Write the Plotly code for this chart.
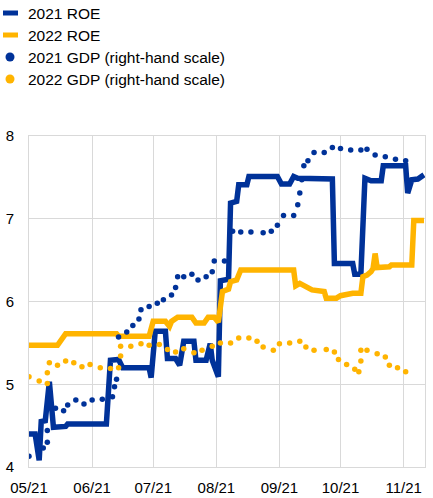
import plotly.graph_objects as go

BLUE = "#003299"
YELLOW = "#FFB400"

# 2021 ROE (left-hand scale)
roe21_dates = ["2021-05-01","2021-05-04","2021-05-06","2021-05-07","2021-05-09","2021-05-11","2021-05-13",
               "2021-05-19","2021-05-20","2021-06-08","2021-06-10","2021-06-14","2021-06-16","2021-06-29",
               "2021-06-30","2021-07-02","2021-07-07","2021-07-08","2021-07-12","2021-07-14","2021-07-16",
               "2021-07-21","2021-07-22","2021-07-27","2021-07-29","2021-07-30","2021-08-02","2021-08-03",
               "2021-08-07","2021-08-08","2021-08-11","2021-08-12","2021-08-16","2021-08-17","2021-08-31",
               "2021-09-02","2021-09-06","2021-09-08","2021-09-10","2021-09-27","2021-09-28","2021-10-07",
               "2021-10-08","2021-10-11","2021-10-13","2021-10-16","2021-10-21","2021-10-22","2021-11-02",
               "2021-11-03","2021-11-05","2021-11-08","2021-11-11"]
roe21_values = [4.40,4.40,4.08,4.55,4.56,5.03,4.48,
                4.49,4.52,4.52,5.29,5.30,5.20,5.20,
                5.08,5.64,5.64,5.31,5.31,5.23,5.52,
                5.52,5.29,5.29,5.49,5.29,5.09,6.25,
                6.27,7.19,7.21,7.41,7.41,7.51,7.51,
                7.42,7.42,7.51,7.49,7.48,6.46,6.46,
                6.33,6.33,7.49,7.46,7.46,7.64,7.64,
                7.31,7.47,7.48,7.53]

# 2022 ROE (left-hand scale)
roe22_dates = ["2021-05-01","2021-05-15","2021-05-19","2021-06-13","2021-06-14","2021-06-29","2021-07-01",
               "2021-07-07","2021-07-09","2021-07-10","2021-07-13","2021-07-20","2021-07-22","2021-07-26",
               "2021-07-28","2021-07-31","2021-08-02","2021-08-04","2021-08-07","2021-08-08","2021-08-11",
               "2021-08-13","2021-09-08","2021-09-09","2021-09-11","2021-09-13","2021-09-16","2021-09-17",
               "2021-09-23","2021-09-24","2021-09-29","2021-10-01","2021-10-07","2021-10-11","2021-10-12",
               "2021-10-14","2021-10-16","2021-10-17","2021-10-18","2021-10-19","2021-10-25","2021-10-26",
               "2021-11-05","2021-11-06","2021-11-11"]
roe22_values = [5.47,5.47,5.61,5.61,5.58,5.58,5.76,
                5.76,5.70,5.76,5.81,5.81,5.74,5.74,
                5.81,5.81,5.75,6.12,6.15,6.24,6.26,
                6.38,6.38,6.19,6.22,6.19,6.16,6.14,
                6.12,6.04,6.04,6.07,6.10,6.10,6.30,
                6.32,6.36,6.40,6.58,6.41,6.42,6.44,
                6.44,6.98,6.98]

# 2021 GDP (right-hand scale)
gdp21_dates = ["2021-05-01","2021-05-08","2021-05-10","2021-05-10","2021-05-14","2021-05-18","2021-05-20",
               "2021-05-24","2021-05-28","2021-06-01","2021-06-06","2021-06-11","2021-06-12","2021-06-13",
               "2021-06-14","2021-06-18","2021-06-21","2021-06-24","2021-06-25","2021-06-29","2021-07-03",
               "2021-07-06","2021-07-10","2021-07-12","2021-07-13","2021-07-16","2021-07-20","2021-07-23",
               "2021-07-27","2021-07-30","2021-07-31","2021-08-05","2021-08-09","2021-08-13","2021-08-18",
               "2021-08-24","2021-08-28","2021-08-31","2021-09-03","2021-09-08","2021-09-10","2021-09-11",
               "2021-09-12","2021-09-13","2021-09-15","2021-09-18","2021-09-23","2021-09-27","2021-10-01",
               "2021-10-06","2021-10-11","2021-10-14","2021-10-18","2021-10-23","2021-10-28","2021-11-02"]
gdp21_values = [4.13,4.23,4.30,4.44,4.71,4.68,4.75,
                4.81,4.76,4.81,4.82,4.85,4.97,5.06,
                5.57,5.63,5.71,5.79,5.90,5.94,5.98,
                6.02,6.08,6.17,6.30,6.30,6.33,6.26,
                6.30,6.36,6.49,6.49,6.85,6.84,6.84,
                6.83,6.85,6.92,7.04,7.04,7.17,7.31,
                7.47,7.64,7.70,7.80,7.80,7.86,7.85,
                7.83,7.83,7.84,7.77,7.75,7.72,7.70]

# 2022 GDP (right-hand scale)
gdp22_dates = ["2021-05-01","2021-05-06","2021-05-10","2021-05-10","2021-05-11","2021-05-15","2021-05-19",
               "2021-05-23","2021-05-27","2021-05-31","2021-06-05","2021-06-10","2021-06-14","2021-06-15",
               "2021-06-15","2021-06-20","2021-06-25","2021-06-29","2021-07-04","2021-07-08","2021-07-12",
               "2021-07-16","2021-07-21","2021-07-25","2021-07-30","2021-08-03","2021-08-08","2021-08-12",
               "2021-08-17","2021-08-21","2021-08-24","2021-08-29","2021-09-01","2021-09-06","2021-09-11",
               "2021-09-14","2021-09-18","2021-09-24","2021-09-28","2021-09-30","2021-10-04","2021-10-08",
               "2021-10-10","2021-10-11","2021-10-11","2021-10-14","2021-10-19","2021-10-23","2021-10-25",
               "2021-10-29","2021-11-02"]
gdp22_values = [5.09,5.04,5.01,5.14,5.26,5.23,5.28,
                5.26,5.21,5.24,5.20,5.19,5.20,5.34,
                5.46,5.46,5.49,5.47,5.48,5.42,5.39,
                5.43,5.38,5.41,5.46,5.50,5.50,5.56,
                5.56,5.52,5.45,5.41,5.49,5.50,5.52,
                5.45,5.41,5.42,5.39,5.30,5.24,5.18,
                5.15,5.28,5.41,5.41,5.37,5.33,5.23,
                5.20,5.15]

tick_vals = ["2021-05-01","2021-06-01","2021-07-01","2021-08-01","2021-09-01","2021-10-01","2021-11-01"]
tick_text = ["05/21","06/21","07/21","08/21","09/21","10/21","11/21"]
y_ticks = [4, 5, 6, 7, 8]

legend_labels = ["2021 ROE", "2022 ROE", "2021 GDP (right-hand scale)", "2022 GDP (right-hand scale)"]
legend_colors = [BLUE, YELLOW, BLUE, YELLOW]
legend_kinds = ["line", "line", "dot", "dot"]

W, H = 433, 498
ML, MR, MT, MB = 29, 8, 136, 31
PW, PH = W - ML - MR, H - MT - MB


def px(x):
    return (x - ML) / PW


def py(y):
    return (H - MB - y) / PH


fig = go.Figure()
fig.add_trace(go.Scatter(x=roe21_dates, y=roe21_values, mode="lines", name=legend_labels[0],
                         line=dict(color=BLUE, width=5.5), showlegend=False))
fig.add_trace(go.Scatter(x=roe22_dates, y=roe22_values, mode="lines", name=legend_labels[1],
                         line=dict(color=YELLOW, width=5.5), showlegend=False))
fig.add_trace(go.Scatter(x=gdp22_dates, y=gdp22_values, mode="markers", yaxis="y2", name=legend_labels[3],
                         marker=dict(color=YELLOW, size=5.5), showlegend=False))
fig.add_trace(go.Scatter(x=gdp21_dates, y=gdp21_values, mode="markers", yaxis="y2", name=legend_labels[2],
                         marker=dict(color=BLUE, size=5.5), showlegend=False))

# legend drawn as shapes + text
FONT = "Arial, Liberation Sans, sans-serif"
row_y = [13, 35, 57, 79]
shapes = []
annotations = []
for lab, col, kind, ry in zip(legend_labels, legend_colors, legend_kinds, row_y):
    if kind == "line":
        shapes.append(dict(type="line", xref="paper", yref="paper",
                           x0=px(3), x1=px(18), y0=py(ry), y1=py(ry),
                           line=dict(color=col, width=5)))
    else:
        shapes.append(dict(type="circle", xref="paper", yref="paper",
                           x0=px(5.5), x1=px(14.5), y0=py(ry - 4.5), y1=py(ry + 4.5),
                           fillcolor=col, line=dict(color=col, width=0)))
    annotations.append(dict(text=lab, xref="paper", yref="paper", x=px(26), y=py(ry),
                            xanchor="left", yanchor="middle", showarrow=False,
                            font=dict(family=FONT, size=15.5, color="#000000")))

GRID = "#d9d9d9"
fig.update_layout(
    width=W, height=H,
    margin=dict(l=ML, r=MR, t=MT, b=MB, autoexpand=False),
    paper_bgcolor="white", plot_bgcolor="white",
    font=dict(family=FONT, size=15, color="#000000"),
    showlegend=False,
    shapes=shapes, annotations=annotations,
    xaxis=dict(type="date", range=["2021-05-01", "2021-11-11 12:00"],
               tickvals=tick_vals, ticktext=tick_text, automargin=False,
               showgrid=True, gridcolor=GRID, gridwidth=1,
               showline=True, linecolor=GRID, linewidth=1, mirror=True,
               ticks="", ticklabelstandoff=7, zeroline=False,
               tickfont=dict(size=15)),
    yaxis=dict(range=[4, 8], tickvals=y_ticks, automargin=False,
               showgrid=True, gridcolor=GRID, gridwidth=1,
               showline=True, linecolor=GRID, linewidth=1, mirror=True,
               ticks="", ticklabelstandoff=11, zeroline=False,
               tickfont=dict(size=15)),
    yaxis2=dict(range=[4, 8], overlaying="y", side="right", automargin=False,
                showgrid=False, showticklabels=False, zeroline=False, showline=False),
)

# remove the page's default 8px body margin so the figure fills the window exactly
fig.write_html("out.html", config={"displayModeBar": False},
               post_script="document.body.style.margin='0';")
